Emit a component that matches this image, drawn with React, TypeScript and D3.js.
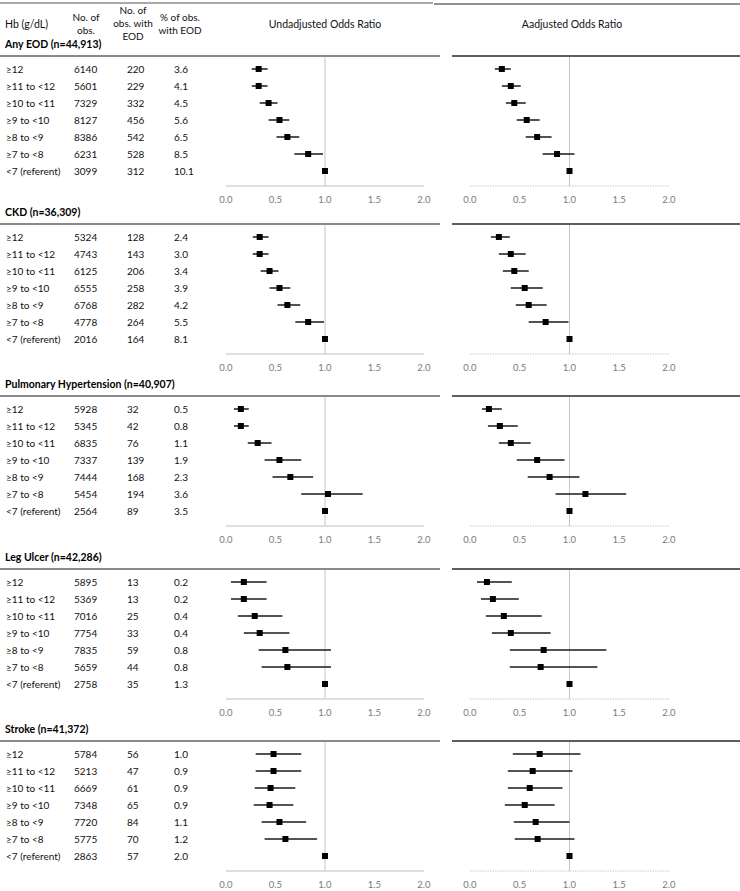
import React from 'react';
import * as d3 from 'd3';

const categories = ['≥12', '≥11 to <12', '≥10 to <11', '≥9 to <10', '≥8 to <9', '≥7 to <8', '<7 (referent)'];
const outcomes = ['Any EOD (n=44,913)', 'CKD (n=36,309)', 'Pulmonary Hypertension (n=40,907)', 'Leg Ulcer (n=42,286)', 'Stroke (n=41,372)'];

const obsCounts = [
  [6140, 5601, 7329, 8127, 8386, 6231, 3099],
  [5324, 4743, 6125, 6555, 6768, 4778, 2016],
  [5928, 5345, 6835, 7337, 7444, 5454, 2564],
  [5895, 5369, 7016, 7754, 7835, 5659, 2758],
  [5784, 5213, 6669, 7348, 7720, 5775, 2863],
];
const eodCounts = [
  [220, 229, 332, 456, 542, 528, 312],
  [128, 143, 206, 258, 282, 264, 164],
  [32, 42, 76, 139, 168, 194, 89],
  [13, 13, 25, 33, 59, 44, 35],
  [56, 47, 61, 65, 84, 70, 57],
];
const eodPct = [
  [3.6, 4.1, 4.5, 5.6, 6.5, 8.5, 10.1],
  [2.4, 3.0, 3.4, 3.9, 4.2, 5.5, 8.1],
  [0.5, 0.8, 1.1, 1.9, 2.3, 3.6, 3.5],
  [0.2, 0.2, 0.4, 0.4, 0.8, 0.8, 1.3],
  [1.0, 0.9, 0.9, 0.9, 1.1, 1.2, 2.0],
];

// Unadjusted odds ratios with 95% CI (referent has none)
const unadjOR = [
  [0.33, 0.33, 0.43, 0.54, 0.62, 0.83, 1],
  [0.34, 0.34, 0.44, 0.54, 0.62, 0.83, 1],
  [0.15, 0.15, 0.32, 0.54, 0.65, 1.03, 1],
  [0.18, 0.18, 0.29, 0.34, 0.6, 0.62, 1],
  [0.48, 0.48, 0.45, 0.44, 0.54, 0.6, 1],
];
const unadjLo = [
  [0.26, 0.26, 0.34, 0.43, 0.51, 0.69, null],
  [0.27, 0.27, 0.35, 0.44, 0.52, 0.7, null],
  [0.08, 0.08, 0.22, 0.39, 0.47, 0.76, null],
  [0.05, 0.05, 0.12, 0.18, 0.33, 0.36, null],
  [0.3, 0.3, 0.29, 0.28, 0.36, 0.39, null],
];
const unadjHi = [
  [0.42, 0.42, 0.52, 0.64, 0.74, 0.98, null],
  [0.43, 0.43, 0.53, 0.65, 0.75, 0.99, null],
  [0.23, 0.23, 0.46, 0.76, 0.88, 1.38, null],
  [0.41, 0.41, 0.57, 0.64, 1.06, 1.06, null],
  [0.76, 0.76, 0.7, 0.68, 0.81, 0.92, null],
];

// Adjusted odds ratios with 95% CI
const adjOR = [
  [0.32, 0.41, 0.445, 0.57, 0.675, 0.875, 1],
  [0.29, 0.41, 0.445, 0.55, 0.59, 0.76, 1],
  [0.19, 0.3, 0.41, 0.675, 0.8, 1.16, 1],
  [0.17, 0.23, 0.34, 0.41, 0.74, 0.71, 1],
  [0.7, 0.63, 0.6, 0.55, 0.66, 0.68, 1],
];
const adjLo = [
  [0.25, 0.32, 0.36, 0.47, 0.56, 0.73, null],
  [0.21, 0.29, 0.33, 0.41, 0.46, 0.59, null],
  [0.12, 0.18, 0.29, 0.47, 0.58, 0.86, null],
  [0.07, 0.11, 0.16, 0.22, 0.4, 0.4, null],
  [0.43, 0.38, 0.38, 0.35, 0.44, 0.45, null],
];
const adjHi = [
  [0.41, 0.51, 0.56, 0.7, 0.82, 1.05, null],
  [0.4, 0.56, 0.59, 0.73, 0.77, 0.99, null],
  [0.32, 0.48, 0.61, 0.95, 1.1, 1.57, null],
  [0.42, 0.49, 0.72, 0.81, 1.37, 1.28, null],
  [1.11, 1.03, 0.93, 0.85, 1.0, 1.05, null],
];

const axisTicks = [0, 0.5, 1, 1.5, 2];

// layout
const W = 740;
const H = 891;
const FONT = "Lato, 'Open Sans', 'Liberation Sans', sans-serif";
const SECTION_TOP = [44, 212, 384, 557, 729];

export default function App() {
  const xL = d3.scaleLinear().domain([0, 2]).range([226, 424]);
  const xR = d3.scaleLinear().domain([0, 2]).range([470, 669]);
  const fmt = d3.format('.1f');

  const renderPanel = (
    s: number,
    x: d3.ScaleLinear<number, number>,
    y: d3.ScalePoint<string>,
    T: number,
    est: number[][],
    lo: (number | null)[][],
    hi: (number | null)[][],
    right: boolean
  ) => {
    const axisY = T + 142;
    return (
      <g key={(right ? 'r' : 'l') + s}>
        <line x1={x(1)} x2={x(1)} y1={T + 13} y2={axisY} stroke="#c4c4c4" strokeWidth={1} />
        {categories.map((c, i) => {
          const l = lo[s][i];
          const h = hi[s][i];
          const cy = y(c) as number;
          return (
            <g key={c}>
              {l != null && h != null && (
                <line x1={x(l)} x2={x(h)} y1={cy} y2={cy} stroke="#1a1a1a" strokeWidth={1.5} />
              )}
              <rect x={x(est[s][i]) - 3} y={cy - 3} width={6} height={6} fill="#000" />
            </g>
          );
        })}
        <line
          x1={x(0)}
          x2={x(2)}
          y1={axisY}
          y2={axisY}
          stroke={right ? '#c8c8c8' : '#d4d4d4'}
          strokeWidth={right ? 1 : 1.5}
          strokeDasharray={right ? '1.5,1' : undefined}
        />
        {axisTicks.map((t) => (
          <text key={t} x={x(t)} y={axisY + 13} textAnchor="middle" fontSize={9.5} fill="#7a7a7a" dominantBaseline="central">
            {fmt(t)}
          </text>
        ))}
      </g>
    );
  };

  return (
    <svg width={W} height={H} style={{ position: 'absolute', left: 0, top: 0, background: '#fff' }} fontFamily={FONT}>
      <rect width={W} height={H} fill="#fff" />
      {/* top border */}
      <line x1={0} x2={433} y1={3} y2={3} stroke="#8c8c8c" strokeWidth={1.5} />
      <line x1={434} x2={W} y1={4} y2={4} stroke="#6e6e6e" strokeWidth={1.5} />

      {/* header */}
      <g fontSize={10} fill="#111">
        <text x={5} y={24} dominantBaseline="central" fontSize={10.5}>Hb (g/dL)</text>
        <text x={86} y={17} textAnchor="middle" dominantBaseline="central">No. of</text>
        <text x={86} y={30} textAnchor="middle" dominantBaseline="central">obs.</text>
        <text x={133} y={10} textAnchor="middle" dominantBaseline="central">No. of</text>
        <text x={133} y={23} textAnchor="middle" dominantBaseline="central">obs. with</text>
        <text x={133} y={36} textAnchor="middle" dominantBaseline="central">EOD</text>
        <text x={180} y={17} textAnchor="middle" dominantBaseline="central">% of obs.</text>
        <text x={180} y={30} textAnchor="middle" dominantBaseline="central">with EOD</text>
        <text x={325} y={24} textAnchor="middle" dominantBaseline="central" fontSize={10.5}>Undadjusted Odds Ratio</text>
        <text x={572} y={24} textAnchor="middle" dominantBaseline="central" fontSize={10.5}>Aadjusted Odds Ratio</text>
      </g>

      {outcomes.map((o, s) => {
        const T = SECTION_TOP[s];
        const y = d3.scalePoint<string>().domain(categories).range([T + 25, T + 127]);
        return (
          <g key={o}>
            <text x={5} y={T} dominantBaseline="central" fontSize={10.5} fontWeight="bold" fill="#000">
              {o}
            </text>
            <line x1={0} x2={440} y1={T + 12} y2={T + 12} stroke="#8a8a8a" strokeWidth={2} />
            <line x1={452} x2={W} y1={T + 12} y2={T + 12} stroke="#5e5e5e" strokeWidth={2} />
            {categories.map((c, i) => {
              const cy = y(c) as number;
              return (
                <g key={c} fontSize={10} fill="#111">
                  <text x={6} y={cy} dominantBaseline="central">{c}</text>
                  <text x={74} y={cy} dominantBaseline="central">{obsCounts[s][i]}</text>
                  <text x={127} y={cy} dominantBaseline="central">{eodCounts[s][i]}</text>
                  <text x={174} y={cy} dominantBaseline="central">{fmt(eodPct[s][i])}</text>
                </g>
              );
            })}
            {renderPanel(s, xL, y, T, unadjOR, unadjLo, unadjHi, false)}
            {renderPanel(s, xR, y, T, adjOR, adjLo, adjHi, true)}
          </g>
        );
      })}
    </svg>
  );
}
